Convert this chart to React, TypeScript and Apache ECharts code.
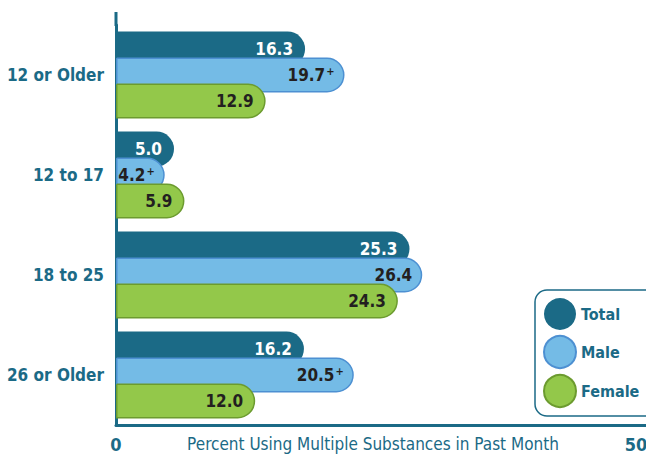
import React, { useEffect, useRef } from "react";
import * as echarts from "echarts";

const categories = ["12 or Older", "12 to 17", "18 to 25", "26 or Older"];
const totalValues = [16.3, 5.0, 25.3, 16.2];
const maleValues = [19.7, 4.2, 26.4, 20.5];
const maleSignificant = [true, true, false, true];
const femaleValues = [12.9, 5.9, 24.3, 12.0];
const xTickLabels = ["0", "50"];

const TEAL = "#1b6a86";
const FONT = "'DejaVu Sans Condensed', 'Roboto', sans-serif";

export default function App() {
  const ref = useRef<HTMLDivElement>(null);
  useEffect(() => {
    if (!ref.current) return;
    const chart = echarts.init(ref.current, undefined, { renderer: "svg" });
    const barW = 35;
    const gap = -((barW - 26) / barW) * 100 + "%";
    const labelBase = {
      show: true,
      position: "insideRight" as const,
      distance: 12,
      fontFamily: FONT,
      fontWeight: "bold" as const,
      fontSize: 17,
    };
    chart.setOption({
      animation: false,
      grid: { left: 116, width: 580, top: 25, height: 400, outerBoundsMode: "none", containLabel: false },
      xAxis: {
        type: "value",
        min: 0,
        max: 50,
        interval: 50,
        splitLine: { show: false },
        axisTick: { show: false },
        axisLine: { show: true, lineStyle: { color: TEAL, width: 3 } },
        axisLabel: {
          margin: 10,
          fontFamily: FONT,
          fontWeight: "bold",
          fontSize: 18,
          color: TEAL,
          formatter: (v: number) =>
            v === 0 ? "{a|" + xTickLabels[0] + "}" : "{b|" + xTickLabels[1] + "}",
          rich: {
            a: { fontFamily: FONT, fontWeight: "bold", fontSize: 18, color: TEAL },
            b: {
              fontFamily: FONT,
              fontWeight: "bold",
              fontSize: 18,
              color: TEAL,
              padding: [0, 120, 0, 0],
            },
          },
        },
        name: "Percent Using Multiple Substances in Past Month",
        nameLocation: "middle",
        nameGap: 10,
        nameMoveOverlap: false,
        nameTextStyle: {
          fontFamily: FONT,
          fontSize: 17,
          color: TEAL,
          padding: [0, 66, 0, 0],
        },
      },
      yAxis: {
        type: "category",
        data: categories,
        inverse: true,
        axisTick: { show: false },
        axisLine: { show: true, lineStyle: { color: TEAL, width: 3 } },
        axisLabel: {
          margin: 12,
          fontFamily: FONT,
          fontWeight: "bold",
          fontSize: 17,
          color: TEAL,
        },
      },
      legend: {
        orient: "vertical",
        left: 535,
        top: 290,
        icon: "circle",
        itemWidth: 32,
        itemHeight: 32,
        itemGap: 5,
        padding: [8, 30, 8, 8],
        borderColor: TEAL,
        borderWidth: 1.5,
        borderRadius: 12,
        backgroundColor: "#fff",
        textStyle: { fontFamily: FONT, fontWeight: "bold", fontSize: 16, color: TEAL },
        data: ["Total", "Male", "Female"],
      },
      graphic: [
        {
          type: "line",
          shape: { x1: 116, y1: 12, x2: 116, y2: 26 },
          style: { stroke: TEAL, lineWidth: 3 },
        },
      ],
      series: [
        {
          name: "Total",
          type: "bar",
          data: totalValues,
          barWidth: barW,
          barGap: gap,
          itemStyle: { color: TEAL, borderRadius: [0, 17.5, 17.5, 0] },
          label: { ...labelBase, color: "#fff", formatter: (p: any) => p.value.toFixed(1) },
        },
        {
          name: "Male",
          type: "bar",
          data: maleValues,
          barWidth: barW,
          barGap: gap,
          itemStyle: {
            color: "#74bbe6",
            borderColor: "#4d90d2",
            borderWidth: 1.5,
            borderRadius: [0, 17.5, 17.5, 0],
          },
          label: {
            ...labelBase,
            distance: 10,
            color: "#231f20",
            formatter: (p: any) =>
              "{v|" + p.value.toFixed(1) + "}" + (maleSignificant[p.dataIndex] ? "{s|+}" : ""),
            rich: {
              v: { fontFamily: FONT, fontWeight: "bold", fontSize: 17, color: "#231f20" },
              s: {
                fontFamily: FONT,
                fontWeight: "bold",
                fontSize: 11,
                color: "#231f20",
                padding: [0, 0, 8, 1],
              },
            },
          },
        },
        {
          name: "Female",
          type: "bar",
          data: femaleValues,
          barWidth: barW,
          barGap: gap,
          itemStyle: {
            color: "#93c84a",
            borderColor: "#6c9b2f",
            borderWidth: 1.5,
            borderRadius: [0, 17.5, 17.5, 0],
          },
          label: { ...labelBase, color: "#231f20", formatter: (p: any) => p.value.toFixed(1) },
        },
      ],
    });
    return () => chart.dispose();
  }, []);
  return <div ref={ref} style={{ width: 646, height: 455, position: "absolute", left: 0, top: 0 }} />;
}
